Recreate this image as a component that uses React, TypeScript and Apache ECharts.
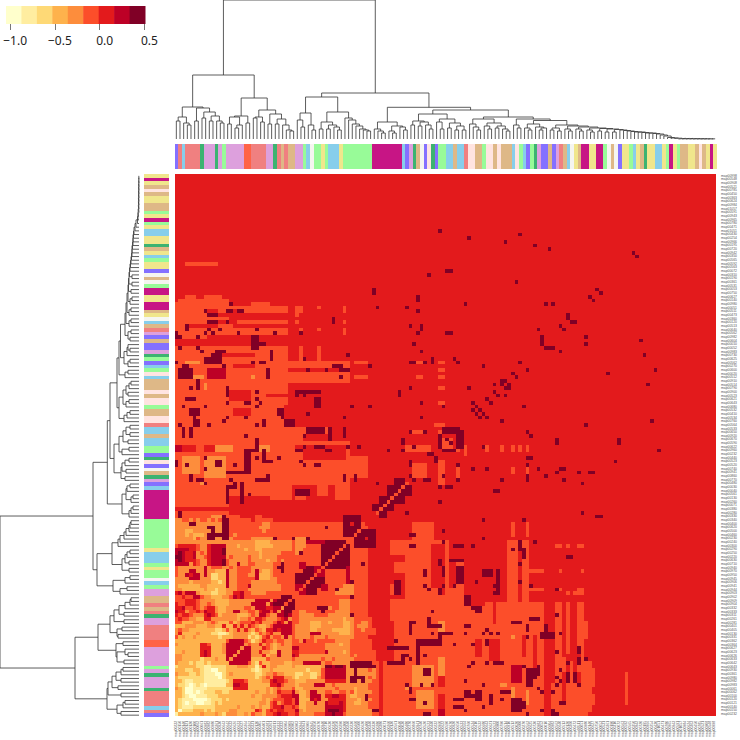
import React, { useEffect, useRef } from "react";
import * as echarts from "echarts";

const N = 148;
const heatPalette = ["#FFFFCC","#FFEDA0","#FED976","#FEB24C","#FD8D3C","#FC4E2A","#E31A1C","#BD0026","#800026"];
const keyBreaks = [-1.046,-0.874,-0.701,-0.529,-0.356,-0.184,-0.011,0.161,0.334,0.506];
const keyTicks = [-1.0,-0.5,0.0,0.5];
const levelValues = [-0.96,-0.79,-0.61,-0.44,-0.27,-0.10,0.07,0.25,0.42];
const groupColors: Record<string,string> = {p:"#8470FF",s:"#F08080",k:"#87CEEB",g:"#3CB371",d:"#DDA0DD",n:"#98FB98",t:"#FF6347",b:"#DEB887",w:"#F5F5F0",h:"#F0E68C",m:"#C71585",y:"#FFE4E1"};
const groupCodes = ("pskssssgdddgdndddddttssssddgsbsbbddnkwnnhnkkkhnnnnnnnn"+
  "mmmmmmmmkpdgbwpygpnnkkbkksyybbnyybybbbkynkpngdppbpdsbkwhbmmhhmmnwbwphhnkhbghhkkhnmhnbbhhbybhmh").split("");
const labelsTopDown = [
"map00998","map00548","map00908","map00521","map00785","map00450","map00363","map00624","map00984","map01057",
"map00591","map00943","map00965","map00780","map00471","map01051","map00430","map00254","map00966","map00195",
"map00720","map00942","map00350","map00565","map00592","map00563","map00072","map00310","map00190","map00361",
"map00531","map00053","map00750","map00627","map00140","map00980","map00051","map00511","map00473","map00360",
"map00120","map00513","map00640","map00562","map00982","map00604","map00010","map00052","map00983","map00730",
"map00625","map00562","map00270","map00600","map00020","map00512","map00910","map00514","map00790","map00900",
"map00523","map00621","map00643","map00680","map00532","map00410","map00534","map00760","map00564","map00533",
"map00650","map00920","map00670","map00590","map00622","map00960","map00232","map00440","map00523","map00520",
"map00740","map00941","map00860","map00770","map00480","map00030","map00040","map00561","map00130","map00260",
"map00071","map00380","map00280","map00330","map00340","map00400","map00620","map00500","map00460","map00230",
"map00240","map00300","map00290","map00250","map00220","map00630","map00710","map00940","map00970","map00950",
"map00945","map00906","map00941","map00944","map00903","map00902","map00909","map00904","map00332","map00333",
"map00311","map00261","map00281","map00401","map00405","map00130","map00331","map00362","map00364","map00627",
"map00623","map00626","map00633","map00642","map00643","map00930","map00361","map00980","map00982","map00983",
"map00061","map00062","map00100","map00120","map00121","map00140","map00150","map00232"];
const leafLabels = labelsTopDown.slice().reverse();

// [firstCol, firstRow, lastCol, lastRow, colourLevel]; the matrix is symmetric, each patch also paints its mirror
const envelopePatches = [
 [0,32,53,53,5],[0,58,47,100,5],[48,65,52,70,5],[49,96,52,96,5],[49,92,52,92,5],
 [3,123,11,123,5],[3,114,5,114,5],[8,114,12,114,5],[1,113,14,113,5],[0,112,15,112,5],[21,112,25,112,5],
 [0,111,30,111,5],[0,110,7,110,5],[12,110,13,110,5],[19,110,30,110,5],[33,110,34,111,5],[39,111,39,111,5],[46,110,46,111,5],
 [0,109,8,109,5],[33,109,33,109,5],[0,108,14,108,5],[0,107,8,107,5],[17,107,30,107,5],[46,107,46,107,5],[33,107,33,107,5],
 [0,106,2,106,5],[12,106,15,106,5],[0,105,30,105,5],[34,105,34,105,5],[39,105,39,105,5],[46,105,46,105,5],
 [0,104,30,104,5],[34,104,34,104,5],[46,104,46,104,5],[0,103,8,103,5],
 [31,97,33,100,6],[35,97,38,100,6],[40,97,47,100,6],[13,98,21,98,6],[16,95,21,95,6],
 [31,94,47,94,6],[31,90,47,90,6],[31,85,47,89,6],[15,86,20,88,6],[25,87,30,87,6],[16,82,20,83,6],
 [30,79,33,84,6],[34,79,47,84,6],[42,75,47,78,6],[35,75,41,76,6],[35,70,46,71,6],[33,72,46,73,6],
 [0,72,1,73,7],[2,72,5,73,6],[8,72,11,73,6],[11,72,15,73,4],[23,72,25,73,4],[0,64,1,70,5],
 [2,66,6,70,4],[8,65,13,70,4],[7,63,8,63,4],[3,96,6,96,4],[5,92,7,92,4],[21,92,21,92,4],[8,89,8,90,4],
 [32,58,47,62,6],[33,59,35,61,5],[39,60,41,62,5],[44,59,47,62,5],[48,58,53,64,6],
 [15,58,25,59,6],[26,58,31,58,6]
];
// colour levels read cell by cell: rows 0..31, columns 0..row
const cornerRows = [
"3","31","321","3211","32110","332100","3320010","43200110","322101210","3321122210","32222222110","433322321110",
"3332233211001","23333322112221","433323223233333","4433333233343374","44333336763333774","334333367633347774",
"3333333666333477774","43333336653334777774","333333333333335777754","5343343333332333444422","46333343332211234444322",
"454433333332235346464353","3334443334433633646465432","55333444345433353455565643","565544336644444443445466543",
"6566544467653444433345477543","76645565766433447744554677575","667556545664334444455477766775",
"6556665445433334444447777478885","55566654444333344444447777478885"];
// colour levels read cell by cell: rows 0..31, columns 32..57
const sideRows = [
"56444455577877554434445565","57434444478887664334448565","65334444477777654444555565","57334474476667654334455565",
"57333767446666654434845565","77334777466776643334455565","74334774455445565384445565","53344444444454454334555565",
"43444477744544454434455565","43334444466666644444445565","32333224577777764484454565","32233223577777764444444565",
"33332333577777744844454565","43333333488788778887888565","44477777455444444454555565","54444444544544444555555666",
"76444444444444445455555666","66555555574444345555555666","77555555544444445555556666","55555555544443445555556666",
"55475545555544445555556666","54444544454444444555566666","54444777444443334555555666","54444334444333334554555666",
"54444333444444334544456666","55444333443444334554456666","55444444444444344555556666","55444455554444448555566666",
"55445555855544445555566666","85555558884554445555566666","85555555555554445555566666","85555555555554445555566666"];
const blockPatches = [
 [32,53,57,57,6],[33,44,34,46,4],[46,33,48,35,4],
 // dark blocks next to the diagonal
 [54,54,59,59,8],[54,54,55,55,6],[58,58,64,64,8],[63,63,64,64,6],[58,63,59,64,6],[54,58,55,59,6],
 [46,49,50,54,8],[48,52,48,52,6],[40,40,47,47,8],[36,47,40,47,7],
 [33,33,40,40,7],[33,36,36,39,8],[35,38,37,40,8],[33,39,34,40,5],[40,34,41,35,7],
 // upper structure
 [65,65,68,68,5],[72,63,73,69,5],[77,65,77,67,5],[92,66,92,67,5],[96,66,96,67,5],
 [63,72,69,73,5],[77,72,77,73,5],[79,72,79,73,5],[85,72,85,73,5],[89,72,89,73,5],[92,72,92,73,5],[94,72,94,73,5],[96,72,96,73,5],
 [66,96,67,96,5],[72,96,73,96,5],[72,94,73,94,5],[66,92,67,92,5],[72,92,73,92,5],[72,89,73,89,5],[72,85,73,85,5],[71,79,72,79,5],[65,77,67,77,5],
 [73,73,75,75,5],[0,48,1,51,4],[5,50,9,52,4],[2,52,3,52,4],[0,47,14,47,4],
 // dark runs
 [73,78,77,78,8],[77,73,78,77,8],[72,73,72,76,8],[73,72,75,72,8],[100,101,100,103,8],[101,100,103,100,8],
 [21,100,22,103,8],[23,101,24,101,8],[26,97,26,99,8],[11,99,13,99,8],[10,98,12,98,8],[8,96,12,97,8],
 [1,92,4,94,8],[2,95,3,95,8],[9,92,13,94,7],[25,92,25,94,8],[6,89,6,91,8],[14,87,14,89,8],[33,88,39,88,8],[38,84,39,86,8],
 [30,79,32,80,8],[28,82,29,83,8],[36,77,40,78,8],[42,75,42,78,8],[46,76,46,78,8],[22,72,22,75,8],[19,67,20,72,8],[24,69,24,72,8],[15,66,20,66,8],
 [14,58,14,62,8],[15,62,16,62,8],[18,58,18,62,8],[33,60,36,61,8],[13,48,14,53,8],[9,49,11,49,8],[9,48,10,48,8],[9,51,10,51,8],[3,86,5,86,8],[4,82,6,83,8],[5,79,6,80,8],[9,109,11,109,8],[9,107,11,107,8],
 [43,95,45,95,8],[45,94,46,94,8],[11,68,12,69,8]
];
const darkCells = [
 [72,132],[80,130],[90,129],[94,131],[98,128],[102,127],[125,126],[69,120],[74,121],[75,121],[93,118],[54,115],[54,116],[66,113],[66,114],[55,111],[63,111],[66,110],[79,112],[101,112],[103,112],
 [115,116],[113,114],[107,108],[107,109],[108,107],[109,107],[105,106],[99,105],[64,106],[67,106],[67,105],[66,104],[74,104],[75,104],[105,99],[112,103],[112,101],[127,102],[128,98],[65,101],[67,99],
 [64,96],[65,96],[68,96],[70,96],[70,97],[76,97],[77,96],[84,95],[94,96],[96,94],[92,93],[93,92],[118,93],[131,94],[129,90],[87,90],[89,91],[90,91],[91,90],[90,89],[87,88],[88,87],[90,87],[64,89],[61,87],[61,88],[80,89],
 [67,85],[81,85],[85,86],[86,85],[73,84],[95,84],[53,84],[53,95],[82,84],[81,83],[83,83],[82,82],[85,81],[67,81],[89,80],[112,79],[130,80],[64,77],[68,77],[74,75],[104,74],[104,75],[121,74],[121,75],[96,77],[97,76],
 [62,74],[62,75],[62,72],[58,72],[65,73],[84,73],[132,72],[120,69],[96,70],[97,70],[69,71],[70,71],[71,70],[71,69],[64,68],[64,69],[77,68],[77,64],[81,67],[85,67],[96,68],[99,67],[104,66],[105,67],[106,67],[101,65],[106,64],[110,66],[113,66],[114,66],[111,63],
 [89,64],[96,64],[96,65],[87,61],[88,61],[72,62],[74,62],[75,62],[73,65],[72,58],[64,65],[65,64],[68,64],[69,64],[55,63],
 [15,112],[8,110],[14,110],[15,110],[17,110],[18,110],[14,107],[43,107],[43,108],[3,105],[3,106],[9,105],[8,104],[10,104],[12,105],[17,104],[22,105],[27,104],[34,104],[0,104],[0,103],[1,103],[6,103],
 [1,100],[6,100],[7,99],[0,96],[21,96],[23,96],[24,96],[35,97],[47,98],[47,94],[53,95],[41,94],[36,94],[45,92],[13,95],[4,89],[22,88],[22,86],[14,85],[19,85],[20,85],[23,85],[22,84],[33,87],[35,87],
 [2,84],[8,84],[5,81],[14,81],[13,80],[19,81],[28,83],[29,81],[36,82],[48,84],[53,84],[46,81],[22,79],[24,79],[24,80],[1,79],[9,79],[2,76],[2,77],[2,78],[4,76],[4,77],[4,78],[19,76],[35,76],
 [33,72],[34,72],[35,73],[38,73],[39,73],[40,73],[41,72],[42,72],[47,73],[50,73],[21,72],[16,68],[25,69],[26,69],[28,70],[22,70],[8,70],[0,68],[0,69],[3,68],[8,67],[14,66],[4,64],[4,65],[7,64],[6,64],[15,64],[16,63],
 [22,64],[23,64],[25,64],[25,65],[18,63],[46,64],[46,65],[49,64],[49,65],[34,69],[35,68],[38,68],[39,68],[8,63],[20,60],[23,64],[24,64],
 [1,55],[4,52],[5,52],[41,51],[27,48],[41,47],[51,41],[48,36],[44,34],[32,48],[36,48]
];
const diagonalLevels = [1,0,1,0,1,0,0,1,0,1,1,0,2,2,3,4,4,4,4,4,4,3,3,4,3,4,4,4,4,4,5,5,5,5,5,5,5,5,5,5,5,5,5,5,5,5,5,5,5,5,5,5,6,6,6,5,5,5,5,5,5,5,5,5];

// tree merges: [height, left, right]; 0 is a leaf
const clusterX = [22,[18,0,0],[16,0,[14,0,0]]];
const clusterY = [31,[18,0,0],[27,[21,0,0],[23,[18,0,0],[18,0,[16,0,0]]]]];
const clusterARa = [23,[22,[15,0,0],[14,[11,0,0],0]],[16,0,0]];
const clusterARb = [29,[22,[21,0,0],[17,0,0]],[25,[15,0,0],[20,[15,0,0],[14,0,[9,0,[8,0,0]]]]]];
const clusterA = [64,[32,clusterX,clusterY],[41,clusterARa,clusterARb]];
const clusterBa = [26,[19,0,[12,0,0]],[14,0,[9,0,0]]];
const clusterBb = [27,[17,[10,0,0],[14,[10,0,0],[12,0,[9,0,0]]]],[21,0,[19,0,[15,0,[13,0,[10,0,[9,0,[8,0,0]]]]]]]];
const clusterM = [17,[10,0,[8,0,[6,0,0]]],[13,[8,0,[6,0,0]],[12,0,[9,0,0]]]];
const clusterN2 = [25,[18,[14,0,0],[17,[13,0,0],[14,0,[10,0,0]]]],[20,[17,0,[10,0,0]],[16,[11,0,0],[13,[9,0,0],[9,0,0]]]]];
const clusterN4 = [20,[15,0,[12,0,[9,0,0]]],[16,[13,0,[10,0,0]],[13,[11,0,0],[10,0,[8,0,0]]]]];
const clusterTail = [4,0,[3,0,[1.5,0,[1,0,[0.8,0,[0.7,0,[0.6,0,[0.6,0,[0.5,0,[0.5,0,[0.4,0,[0.4,0,[0.3,0,[0.3,0,[0.2,0,0]]]]]]]]]]]]]]];
const clusterS = [14,[11,[9,0,0],[8,0,0]],[13,[10,0,[8,0,0]],[12,[10,0,[8,0,0]],[11,[9,0,[7,0,0]],[10.5,[8,0,0],[10,[7,0,0],[9.5,[7,0,0],
  [9,0,[8.5,0,[8,0,[7.5,0,[7,0,[7,0,[6.5,0,[6,0,[6,0,[5.5,0,[5,0,clusterTail]]]]]]]]]]]]]]]]]];
const clusterN5 = [20,[14,0,[11,0,0]],[18.5,[15,[11,0,[9,0,0]],[12,0,[11,[9,0,0],0]]],clusterS]];
const treeRoot = [139,clusterA,[46,[42,clusterBa,clusterBb],[31.7,clusterM,[29,clusterN2,[22,clusterN4,clusterN5]]]]];

function buildMatrix() {
  const m: number[][] = [];
  for (let r = 0; r < N; r++) m.push(new Array(N).fill(6));
  const patch = ([c0,r0,c1,r1,l]: number[]) => {
    for (let c = c0; c <= c1; c++) for (let r = r0; r <= r1; r++) { m[r][c] = l; m[c][r] = l; }
  };
  envelopePatches.forEach(patch);
  cornerRows.forEach((row, r) => row.split("").forEach((d, c) => { m[r][c] = +d; m[c][r] = +d; }));
  sideRows.forEach((row, r) => row.split("").forEach((d, i) => { m[r][32 + i] = +d; m[32 + i][r] = +d; }));
  blockPatches.forEach(patch);
  darkCells.forEach(([c,r]) => { m[r][c] = 8; m[c][r] = 8; });
  diagonalLevels.forEach((l, i) => { m[i][i] = l; });
  return m;
}
function treeSegments() {
  const segs: [number,number][] = [];
  let next = 0;
  const walk = (node: any): [number,number] => {
    if (node === 0) { next += 1; return [next - 0.5, 0]; }
    const a = walk(node[1]); const b = walk(node[2]);
    segs.push([a[0],a[1]],[a[0],node[0]],[b[0],node[0]],[b[0],b[1]],[NaN,NaN]);
    return [(a[0]+b[0])/2, node[0]];
  };
  walk(treeRoot);
  return segs;
}
// one crisp cell, from the axes' own coordinates
const renderCell = (_: any, api: any) => {
  const p = api.coord([api.value(0), api.value(1)]);
  const s = api.size([1, 1]);
  const x0 = Math.round(p[0] - s[0] / 2), x1 = Math.round(p[0] + s[0] / 2);
  const y0 = Math.round(p[1] - s[1] / 2), y1 = Math.round(p[1] + s[1] / 2);
  return { type: "rect", shape: { x: x0, y: y0, width: x1 - x0, height: y1 - y0 }, style: { fill: api.visual("color") } };
};

export default function App() {
  const ref = useRef<HTMLDivElement>(null);
  useEffect(() => {
    const chart = echarts.init(ref.current!, undefined, { renderer: "svg" });
    const m = buildMatrix();
    const heat: number[][] = [];
    for (let r = 0; r < N; r++) for (let c = 0; c < N; c++) heat.push([c, r, levelValues[m[r][c]]]);
    const codes = Object.keys(groupColors);
    const groupIdx = groupCodes.map((g) => codes.indexOf(g));
    const segs = treeSegments();
    const hideCat = (gridIndex: number, data: any) => ({ type: "category", gridIndex, data, show: false });
    const hideVal = (gridIndex: number, min: number, max: number, inverse = false) => ({ type: "value", gridIndex, min, max, inverse, show: false });
    const tiny = { fontSize: 3.4, color: "#555", fontFamily: "Liberation Sans, sans-serif", interval: 0 };
    const noLine = { axisLine: { show: false }, axisTick: { show: false }, splitLine: { show: false }, splitArea: { show: false } };
    const treeLine = { color: "#333", width: 0.8 };
    const cellSeries = { type: "custom", renderItem: renderCell, progressive: 0, silent: true, encode: { x: 0, y: 1 } };
    chart.setOption({
      animation: false,
      backgroundColor: "#fff",
      grid: [
        { left: 174.5, top: 174, width: 542.5, height: 543 },
        { left: 174.5, top: 144, width: 542.5, height: 24.7 },
        { left: 144.3, top: 174, width: 24.7, height: 543 },
        { left: 174.5, top: 0, width: 542.5, height: 139 },
        { left: 0, top: 174, width: 139, height: 543 },
        { left: 6, top: 6, width: 139, height: 18 },
      ],
      xAxis: [
        { type: "category", gridIndex: 0, data: leafLabels, position: "bottom", ...noLine, axisLabel: { ...tiny, rotate: 90, margin: 5 } },
        hideCat(1, leafLabels),
        hideCat(2, ["group"]),
        hideVal(3, 0, N),
        hideVal(4, 0, 139, true),
        { type: "value", gridIndex: 5, min: keyBreaks[0], max: keyBreaks[9], splitLine: { show: false }, axisLine: { show: false },
          axisTick: { customValues: keyTicks, length: 6, lineStyle: { color: "#777" } },
          axisLabel: { customValues: keyTicks, margin: 10, padding: [0, 0, 0, 10], fontSize: 12, color: "#222", fontFamily: "Noto Sans", formatter: (v: number) => v.toFixed(1).replace("-", "\u2212") } },
      ],
      yAxis: [
        { type: "category", gridIndex: 0, data: leafLabels, position: "right", ...noLine, axisLabel: { ...tiny, margin: 5 } },
        hideCat(1, ["group"]),
        hideCat(2, leafLabels),
        hideVal(3, 0, 139),
        hideVal(4, 0, N),
        hideVal(5, 0, 1),
      ],
      visualMap: [
        { type: "piecewise", show: false, seriesIndex: 0, dimension: 2,
          pieces: heatPalette.map((color, i) => ({ min: keyBreaks[i], max: keyBreaks[i + 1], color })) },
        { type: "piecewise", show: false, seriesIndex: [1, 2], dimension: 2,
          pieces: codes.map((k, i) => ({ value: i, color: groupColors[k] })) },
      ],
      series: [
        { ...cellSeries, xAxisIndex: 0, yAxisIndex: 0, data: heat },
        { ...cellSeries, xAxisIndex: 1, yAxisIndex: 1, data: groupIdx.map((g, i) => [i, 0, g]) },
        { ...cellSeries, xAxisIndex: 2, yAxisIndex: 2, data: groupIdx.map((g, i) => [0, i, g]) },
        { type: "line", xAxisIndex: 3, yAxisIndex: 3, data: segs, showSymbol: false, symbol: "none", connectNulls: false, lineStyle: treeLine, silent: true, clip: false },
        { type: "line", xAxisIndex: 4, yAxisIndex: 4, data: segs.map(([p, h]) => [h, p]), showSymbol: false, symbol: "none", connectNulls: false, lineStyle: treeLine, silent: true, clip: false },
        { type: "custom", xAxisIndex: 5, yAxisIndex: 5, silent: true, encode: { x: [0, 1], y: 2 },
          data: heatPalette.map((_, i) => [keyBreaks[i], keyBreaks[i + 1], i]),
          renderItem: (_: any, api: any) => {
            const a = api.coord([api.value(0), 1]); const b = api.coord([api.value(1), 0]);
            return { type: "rect", shape: { x: a[0], y: a[1], width: b[0] - a[0] + 0.5, height: b[1] - a[1] }, style: { fill: heatPalette[api.value(2)] } };
          } },
      ],
    });
    return () => chart.dispose();
  }, []);
  return <div ref={ref} style={{ position: "fixed", left: 0, top: 0, width: 740, height: 740 }} />;
}
